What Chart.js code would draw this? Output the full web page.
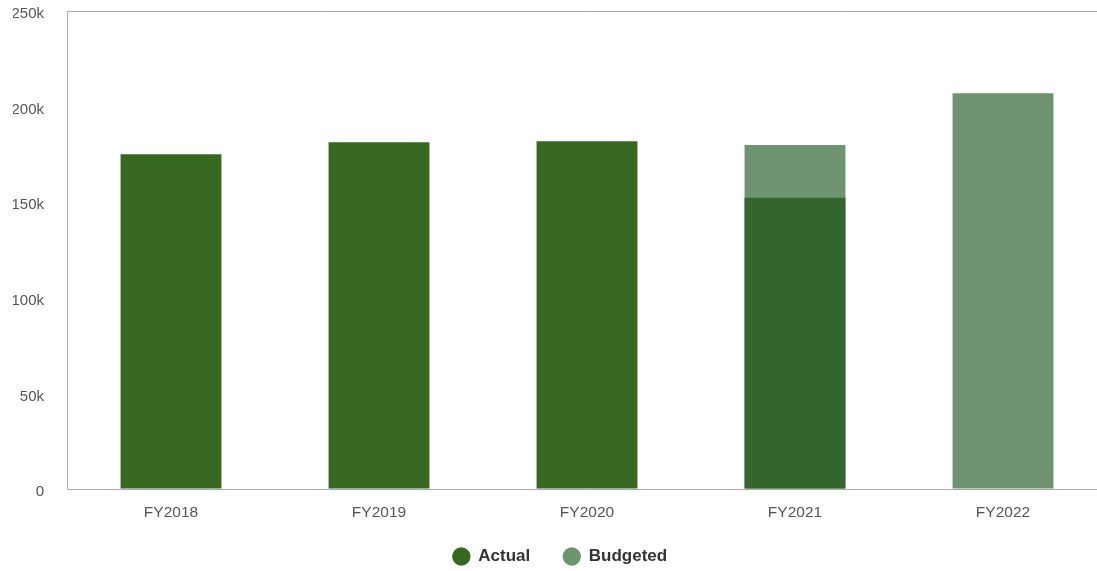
<!DOCTYPE html>
<html>
<head>
<meta charset="utf-8">
<script src="https://cdn.jsdelivr.net/npm/chart.js@4.4.1/dist/chart.umd.min.js"></script>
<style>
    html, body { margin: 0; padding: 0; background: #fff; overflow: hidden; }
    #wrap { width: 1094px; height: 571px; position: absolute; left: 13px; top: 0; }
</style>
</head>
<body>
<div id="wrap"><canvas id="budgetChart"></canvas></div>
<script>
const categories = ['FY2018', 'FY2019', 'FY2020', 'FY2021', 'FY2022'];
const actualValues = [175100, 181400, 181900, 152300, null];
const budgetedValues = [null, null, null, 179900, 207000];
const actualColors = ['#376820', '#376820', '#376820', '#33652d', '#376820'];
const budgetedColor = '#6f9470';

const axisColor = '#aaaaaa';
const labelColor = '#555555';
const fontFamily = "'Liberation Sans', Arial, sans-serif";

// x axis box is kept short so the legend sits close; let its labels draw past the box
const unclipXLabels = {
    id: 'unclipXLabels',
    afterLayout(chart) {
        chart.scales.x.bottom = chart.height;
    }
};

const ctx = document.getElementById('budgetChart').getContext('2d');
const budgetChart = new Chart(ctx, {
    type: 'bar',
    data: {
        labels: categories,
        datasets: [{
            label: 'Actual',
            data: actualValues,
            backgroundColor: actualColors,
            grouped: false,
            barPercentage: 0.485,
            categoryPercentage: 1
        }, {
            label: 'Budgeted',
            data: budgetedValues,
            backgroundColor: budgetedColor,
            grouped: false,
            barPercentage: 0.485,
            categoryPercentage: 1
        }]
    },
    plugins: [unclipXLabels],
    options: {
        responsive: true,
        maintainAspectRatio: false,
        animation: false,
        layout: {
            padding: { top: 11, right: 0, left: 0, bottom: -4 }
        },
        plugins: {
            tooltip: { enabled: false },
            legend: {
                position: 'bottom',
                labels: {
                    usePointStyle: true,
                    pointStyle: 'circle',
                    boxHeight: 13,
                    padding: 33,
                    color: '#333333',
                    font: { family: fontFamily, size: 17, weight: 'bold' }
                }
            }
        },
        scales: {
            x: {
                afterFit: scale => { scale.height = 26; },
                grid: { display: false },
                border: { display: true, color: axisColor, width: 1 },
                ticks: {
                    color: labelColor,
                    padding: 6,
                    font: { family: fontFamily, size: 15.5 }
                }
            },
            y: {
                min: 0,
                max: 250000,
                afterFit: scale => { scale.width = 54; },
                grid: {
                    drawTicks: true,
                    tickLength: 23,
                    tickColor: 'rgba(0,0,0,0)',
                    color: c => (c.tick && c.tick.value === 250000) ? axisColor : 'rgba(0,0,0,0)'
                },
                border: { display: true, color: axisColor, width: 1 },
                ticks: {
                    stepSize: 50000,
                    padding: 0,
                    labelOffset: 3,
                    color: labelColor,
                    font: { family: fontFamily, size: 15 },
                    callback: v => v === 0 ? '0' : (v / 1000) + 'k'
                }
            }
        }
    }
});
</script>
</body>
</html>
